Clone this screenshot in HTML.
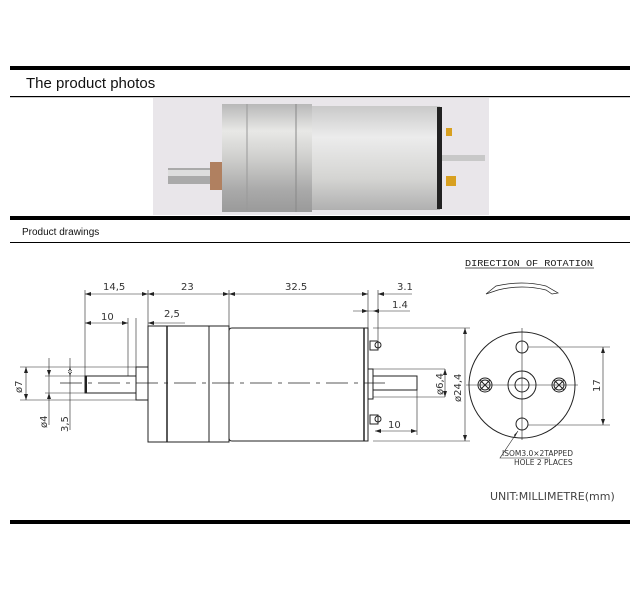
<!DOCTYPE html>
<html><head><meta charset="utf-8"><style>
html,body{margin:0;padding:0;background:#fff;}
svg{display:block;}
</style></head><body>
<svg width="640" height="600" viewBox="0 0 640 600" xmlns="http://www.w3.org/2000/svg" font-family="Liberation Sans, sans-serif">
<defs>
<linearGradient id="met" x1="0" y1="0" x2="0" y2="1">
<stop offset="0" stop-color="#b8b8b8"/><stop offset="0.25" stop-color="#e8e8e6"/><stop offset="0.5" stop-color="#cfcfcd"/><stop offset="0.8" stop-color="#a9a9a9"/><stop offset="1" stop-color="#9a9a9a"/>
</linearGradient>
<linearGradient id="met2" x1="0" y1="0" x2="0" y2="1">
<stop offset="0" stop-color="#c9c9c9"/><stop offset="0.3" stop-color="#ececec"/><stop offset="0.7" stop-color="#d4d4d2"/><stop offset="1" stop-color="#b0b0b0"/>
</linearGradient>
</defs>
<rect x="10" y="66" width="620" height="4" fill="#000"/>
<text x="26" y="88" font-size="15" fill="#111">The product photos</text>
<rect x="10" y="96" width="620" height="1.2" fill="#000"/>
<rect x="153" y="98" width="336" height="117" fill="#e9e6ea"/>
<rect x="222" y="104" width="78" height="108" fill="url(#met)"/>
<rect x="296" y="104" width="16" height="108" fill="url(#met)"/>
<line x1="296" y1="104" x2="296" y2="212" stroke="#888"/>
<line x1="247" y1="104" x2="247" y2="212" stroke="#999"/>
<rect x="312" y="106" width="128" height="104" fill="url(#met2)"/>
<rect x="437" y="107" width="5" height="102" fill="#222"/>
<rect x="168" y="168" width="45" height="16" fill="#aaa"/>
<rect x="168" y="170" width="45" height="6" fill="#ddd"/>
<rect x="210" y="162" width="12" height="28" fill="#b08060"/>
<rect x="442" y="155" width="43" height="6" fill="#c8c8c8"/>
<rect x="446" y="128" width="6" height="8" fill="#d8a020"/>
<rect x="446" y="176" width="10" height="10" fill="#d8a020"/>
<rect x="10" y="216" width="620" height="4" fill="#000"/>
<text x="22" y="235" font-size="10" fill="#111">Product drawings</text>
<rect x="10" y="242" width="620" height="1" fill="#000"/>
<g stroke="#222" stroke-width="1" fill="none">
<rect x="148" y="326" width="81" height="116"/>
<line x1="167" y1="326" x2="167" y2="442" stroke-width="1.5"/>
<line x1="209" y1="326" x2="209" y2="442"/>
<path d="M229 331 Q229 328 232 328 L368 328 L368 441 L232 441 Q229 441 229 438"/>
<line x1="364" y1="328" x2="364" y2="441" stroke-width="1.5"/>
<rect x="136" y="367" width="12" height="33"/>
<rect x="85" y="376" width="51" height="17"/>
<line x1="86" y1="376" x2="86" y2="393" stroke-width="2"/>
<rect x="368" y="369" width="5" height="30"/>
<rect x="373" y="376" width="44" height="14"/>
<rect x="370" y="341" width="8" height="9"/><circle cx="378" cy="345" r="3"/>
<rect x="370" y="415" width="8" height="9"/><circle cx="378" cy="419" r="3"/>
<line x1="60" y1="383" x2="385" y2="383" stroke-dasharray="22,6,4,6" stroke-width="0.7"/>
<line x1="85" y1="290" x2="85" y2="376" stroke-width="0.6"/>
<line x1="148" y1="290" x2="148" y2="326" stroke-width="0.6"/>
<line x1="229" y1="290" x2="229" y2="326" stroke-width="0.6"/>
<line x1="368" y1="290" x2="368" y2="340" stroke-width="0.6"/>
<line x1="378" y1="290" x2="378" y2="340" stroke-width="0.6"/>
<line x1="85" y1="294" x2="368" y2="294" stroke-width="0.6"/>
<line x1="378" y1="294" x2="412" y2="294" stroke-width="0.6"/>
<line x1="353" y1="311" x2="410" y2="311" stroke-width="0.6"/>
<line x1="85" y1="323" x2="128" y2="323" stroke-width="0.6"/>
<line x1="128" y1="318" x2="128" y2="376" stroke-width="0.6"/>
<line x1="136" y1="318" x2="136" y2="367" stroke-width="0.6"/>
<line x1="148" y1="323" x2="185" y2="323" stroke-width="0.6"/>
<line x1="20" y1="367" x2="136" y2="367" stroke-width="0.6"/>
<line x1="20" y1="400" x2="136" y2="400" stroke-width="0.6"/>
<line x1="26" y1="367" x2="26" y2="400" stroke-width="0.6"/>
<line x1="45" y1="376" x2="85" y2="376" stroke-width="0.6"/>
<line x1="45" y1="393" x2="85" y2="393" stroke-width="0.6"/>
<line x1="49" y1="358" x2="49" y2="425" stroke-width="0.6"/>
<line x1="70" y1="358" x2="70" y2="430" stroke-width="0.6"/>
<line x1="373" y1="369" x2="445" y2="369" stroke-width="0.6"/>
<line x1="373" y1="397" x2="445" y2="397" stroke-width="0.6"/>
<line x1="445" y1="369" x2="445" y2="397" stroke-width="0.6"/>
<line x1="373" y1="328" x2="470" y2="328" stroke-width="0.6"/>
<line x1="373" y1="441" x2="470" y2="441" stroke-width="0.6"/>
<line x1="465" y1="328" x2="465" y2="441" stroke-width="0.6"/>
<line x1="417" y1="390" x2="417" y2="435" stroke-width="0.6"/>
<line x1="375" y1="431" x2="417" y2="431" stroke-width="0.6"/>
<circle cx="522" cy="385" r="53"/>
<circle cx="522" cy="385" r="14"/>
<circle cx="522" cy="385" r="7"/>
<circle cx="522" cy="347" r="6"/>
<circle cx="522" cy="424" r="6"/>
<circle cx="485" cy="385" r="7"/><circle cx="485" cy="385" r="5"/>
<path d="M480 380 L490 390 M490 380 L480 390"/>
<circle cx="559" cy="385" r="7"/><circle cx="559" cy="385" r="5"/>
<path d="M554 380 L564 390 M564 380 L554 390"/>
<line x1="466" y1="385" x2="578" y2="385" stroke-width="0.6"/>
<line x1="522" y1="328" x2="522" y2="440" stroke-width="0.6"/>
<line x1="528" y1="347" x2="610" y2="347" stroke-width="0.6"/>
<line x1="528" y1="425" x2="610" y2="425" stroke-width="0.6"/>
<line x1="603" y1="347" x2="603" y2="425" stroke-width="0.6"/>
<path d="M518 431 L500 458 L550 458" stroke-width="0.6"/>
<path d="M486 294 L496 286 Q522 280 546 286 L558 293 L552 294 L546 290 Q522 284 498 290 Z" stroke-width="0.7"/>
<line x1="465" y1="268" x2="594" y2="268" stroke-width="0.8"/>
</g>
<g fill="#222">
<path d="M85 294 l6 -2 v4z M148 294 l-6 -2 v4z M148 294 l6 -2 v4z M229 294 l-6 -2 v4z M229 294 l6 -2 v4z M368 294 l-6 -2 v4z M378 294 l6 -2 v4z M368 311 l-6 -2 v4z M373 311 l6 -2 v4z"/>
<path d="M85 323 l6 -2 v4z M128 323 l-6 -2 v4z M148 323 l6 -2 v4z M26 367 l-2 6 h4z M26 400 l-2 -6 h4z M49 376 l-2 -6 h4z M49 393 l-2 6 h4z M70 376 l-2 -6 h4z M70 367 l-2 6 h4z"/>
<path d="M445 369 l-2 6 h4z M445 397 l-2 -6 h4z M465 328 l-2 6 h4z M465 441 l-2 -6 h4z M603 347 l-2 6 h4z M603 425 l-2 -6 h4z M375 431 l6 -2 v4z M417 431 l-6 -2 v4z M518 431 l-4 4 l1 2z"/>
</g>
<g font-size="10" fill="#333" font-family="DejaVu Sans, sans-serif">
<text x="103" y="290">14,5</text>
<text x="181" y="290">23</text>
<text x="285" y="290">32.5</text>
<text x="397" y="290">3.1</text>
<text x="392" y="308">1.4</text>
<text x="101" y="320">10</text>
<text x="164" y="317">2,5</text>
<text x="388" y="428">10</text>
<text transform="translate(22,393) rotate(-90)">ø7</text>
<text transform="translate(47,428) rotate(-90)">ø4</text>
<text transform="translate(68,432) rotate(-90)">3,5</text>
<text transform="translate(443,395) rotate(-90)">ø6,4</text>
<text transform="translate(461,402) rotate(-90)">ø24,4</text>
<text transform="translate(600,392) rotate(-90)">17</text>
<text x="465" y="266" font-size="9.5" font-family="Liberation Mono, monospace" fill="#222" textLength="128" lengthAdjust="spacingAndGlyphs">DIRECTION OF ROTATION</text>
<text x="502" y="456" font-size="7.5">ISOM3.0×2TAPPED</text>
<text x="514" y="465" font-size="7.5">HOLE 2 PLACES</text>
<text x="490" y="500" font-size="11" fill="#444">UNIT:MILLIMETRE(mm)</text>
</g>
<rect x="10" y="520" width="620" height="4" fill="#000"/>
</svg>
</body></html>
